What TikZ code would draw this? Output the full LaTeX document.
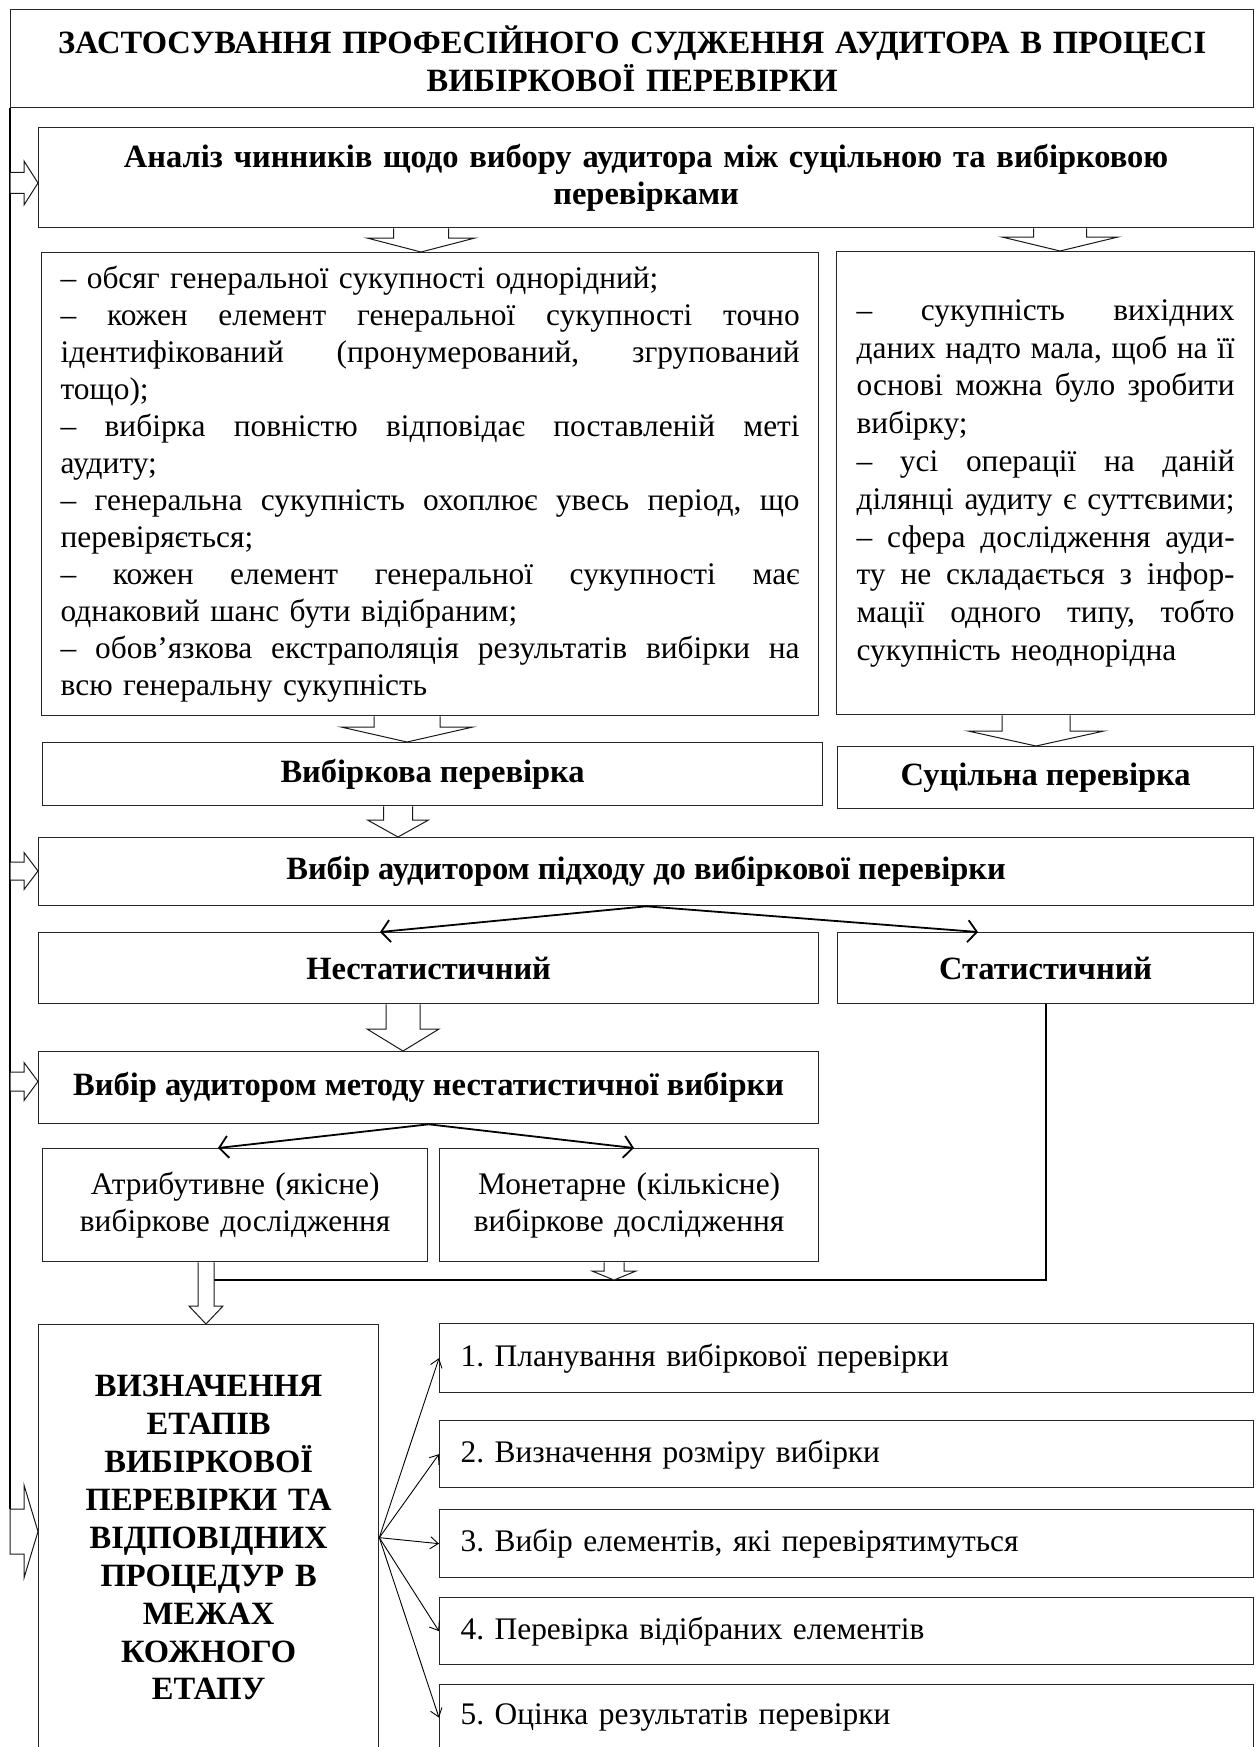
\documentclass[tikz,border=0pt]{standalone}
\usepackage{fontspec}
\setmainfont{Liberation Serif}
\usetikzlibrary{arrows.meta, calc}
\setlength{\parindent}{0pt}
\frenchspacing
\newcommand{\boxfont}{\fontsize{31.4}{37.4}\selectfont}
\newcommand{\headfont}{\fontsize{32.5}{37.6}\selectfont\bfseries}
% one justified line
\newcommand{\jline}[1]{\makebox[\hsize][s]{\spaceskip=0.25em plus 1fil minus 0.08em\relax #1}}

% hollow block arrow going down: from, to, x, shaft half, head half, head length
\newcommand{\fatdown}[6]{%
  \draw[fat] let \p1=(#1), \p2=(#2) in
    (#3pt-#4pt,\y1) -- (#3pt-#4pt,\y2+#6pt) -- (#3pt-#5pt,\y2+#6pt) -- (#3pt,\y2)
    -- (#3pt+#5pt,\y2+#6pt) -- (#3pt+#4pt,\y2+#6pt) -- (#3pt+#4pt,\y1);}
% hollow block arrow from the left spine: y, target, shaft half, head half
\newcommand{\fatright}[4]{%
  \draw[fat] let \p1=(title.south west), \p2=(#2.west) in
    (\x1,-#1pt+#3pt) -- (\x2-14pt,-#1pt+#3pt) -- (\x2-14pt,-#1pt+#4pt) -- (\x2,-#1pt)
    -- (\x2-14pt,-#1pt-#4pt) -- (\x2-14pt,-#1pt-#3pt) -- (\x1,-#1pt-#3pt) -- cycle;}

\begin{document}
\begin{tikzpicture}[x=1pt, y=-1pt,
    box/.style={draw=black!85, line width=1.3pt, anchor=north west, inner sep=0pt, font=\boxfont},
    headbox/.style={box, font=\headfont},
    fat/.style={draw=black!90, line width=1pt, fill=white},
    fork/.style={line width=1.8pt, -{Straight Barb[length=9pt, width=22pt]}},
    fan/.style={line width=0.9pt, -{Straight Barb[length=8pt, width=12pt]}},
    spine/.style={line width=2.4pt}]
    \useasboundingbox (0,0) rectangle (1255,1747);
    \clip (0,0) rectangle (1255,1747);

    % Title
    \node[headbox, minimum width=1243pt, minimum height=98pt, text width=1220pt, align=center] (title) at (10,9)
        {ЗАСТОСУВАННЯ ПРОФЕСІЙНОГО СУДЖЕННЯ АУДИТОРА В ПРОЦЕСІ\\ ВИБІРКОВОЇ ПЕРЕВІРКИ};

    % Analysis of factors
    \node[headbox, minimum width=1215pt, minimum height=100pt, text width=1180pt, align=center] (analiz) at (38,127)
        {Аналіз чинників щодо вибору аудитора між суцільною та вибірковою\\ перевірками};

    % Conditions for sampling
    \node[box, minimum width=777pt, minimum height=463pt, text width=739pt, align=left] (umovy) at (41,252) {%
        \baselineskip=37pt
        – обсяг генеральної сукупності однорідний;\\
        \jline{– кожен елемент генеральної сукупності точно}\\
        \jline{ідентифікований (пронумерований, згрупований}\\
        тощо);\\
        \jline{– вибірка повністю відповідає поставленій меті}\\
        аудиту;\\
        \jline{– генеральна сукупність охоплює увесь період, що}\\
        перевіряється;\\
        \jline{– кожен елемент генеральної сукупності має}\\
        однаковий шанс бути відібраним;\\
        \jline{– обов’язкова екстраполяція результатів вибірки на}\\
        всю генеральну сукупність};

    % Conditions for full check
    \node[box, minimum width=418pt, minimum height=463pt, text width=378pt, align=left] (sucil) at (836,251) {%
        \baselineskip=37.8pt
        \jline{– сукупність вихідних}\\
        \jline{даних надто мала, щоб на її}\\
        \jline{основі можна було зробити}\\
        вибірку;\\
        \jline{– усі операції на даній}\\
        \jline{ділянці аудиту є суттєвими;}\\
        \jline{– сфера дослідження ауди-}\\
        \jline{ту не складається з інфор-}\\
        \jline{мації одного типу, тобто}\\
        сукупність неоднорідна};

    % Kinds of check
    \node[headbox, minimum width=780pt, minimum height=63pt] (vybirk) at (42,742) {Вибіркова перевірка};
    \node[headbox, minimum width=416pt, minimum height=62pt] (sucilna) at (837,746) {Суцільна перевірка};

    % Approach
    \node[headbox, minimum width=1215pt, minimum height=68pt] (pidhid) at (38,837) {Вибір аудитором підходу до вибіркової перевірки};
    \node[headbox, minimum width=780pt, minimum height=71pt] (nestat) at (38,932) {Нестатистичний};
    \node[headbox, minimum width=416pt, minimum height=71pt] (stat) at (837,932) {Статистичний};

    % Method
    \node[headbox, minimum width=780pt, minimum height=72pt] (metod) at (38,1051) {Вибір аудитором методу нестатистичної вибірки};
    \node[box, minimum width=385pt, minimum height=113pt, text width=370pt, align=center] (atryb) at (42,1148)
        {Атрибутивне (якісне)\\ вибіркове дослідження};
    \node[box, minimum width=379pt, minimum height=113pt, text width=370pt, align=center] (monet) at (439,1148)
        {Монетарне (кількісне)\\ вибіркове дослідження};

    % Stages
    \node[headbox, minimum width=340pt, minimum height=426pt, text width=330pt, align=center] (vyzn) at (38,1324)
        {\baselineskip=37.9pt ВИЗНАЧЕННЯ\\ ЕТАПІВ\\ ВИБІРКОВОЇ\\ ПЕРЕВІРКИ ТА\\ ВІДПОВІДНИХ\\ ПРОЦЕДУР В\\ МЕЖАХ\\ КОЖНОГО\\ ЕТАПУ};
    \node[box, minimum width=814pt, minimum height=69pt, text width=772pt, align=left] (step1) at (439,1323) {1. Планування вибіркової перевірки};
    \node[box, minimum width=814pt, minimum height=67pt, text width=772pt, align=left] (step2) at (439,1420) {2. Визначення розміру вибірки};
    \node[box, minimum width=814pt, minimum height=68pt, text width=772pt, align=left] (step3) at (439,1509) {3. Вибір елементів, які перевірятимуться};
    \node[box, minimum width=814pt, minimum height=67pt, text width=772pt, align=left] (step4) at (439,1597) {4. Перевірка відібраних елементів};
    \node[box, minimum width=814pt, minimum height=66pt, text width=772pt, align=left] (step5) at (439,1684) {5. Оцінка результатів перевірки};

    % Left spine
    \coordinate (spineend) at (10,1509);
    \draw[spine] (title.south west) -- (spineend);

    % Statistical branch joins the stages
    \coordinate (join) at (614,1280);
    \coordinate (merge) at (214,1280);
    \draw[line width=1.8pt] (stat.south) |- (merge);

    % Block arrows
    \fatdown{analiz.south}{umovy.north}{421}{27.5}{54}{14}
    \fatdown{analiz.south}{sucil.north}{1060}{26.5}{58}{14}
    \fatdown{umovy.south}{vybirk.north}{407}{33}{66}{15}
    \fatdown{sucil.south}{sucilna.north}{1036}{34}{68}{15}
    \fatdown{vybirk.south}{pidhid.north}{398}{14.5}{30.5}{17}
    \fatdown{nestat.south}{metod.north}{403}{17}{36}{22}
    \fatdown{monet.south}{join}{614}{10}{22}{9}
    \fatdown{atryb.south}{vyzn.north}{206}{8}{17}{18}

    \fatright{183}{analiz}{10.5}{22}
    \fatright{871}{pidhid}{9}{18.5}
    \fatright{1081.5}{metod}{9.5}{19}
    \fatright{1531.5}{vyzn}{22.5}{46.5}

    % Forks
    \draw[fork] (pidhid.south) -- ($(nestat.north west)+(342,0)$);
    \draw[fork] (pidhid.south) -- ($(stat.north west)+(141,0)$);
    \draw[fork] (metod.south) -- ($(atryb.north west)+(176,0)$);
    \draw[fork] (metod.south) -- ($(monet.north west)+(195,0)$);

    % Stages fan
    \draw[fan] (vyzn.east) -- (step1.west);
    \draw[fan] (vyzn.east) -- (step2.west);
    \draw[fan] (vyzn.east) -- (step3.west);
    \draw[fan] (vyzn.east) -- (step4.west);
    \draw[fan] (vyzn.east) -- (step5.west);
\end{tikzpicture}
\end{document}
